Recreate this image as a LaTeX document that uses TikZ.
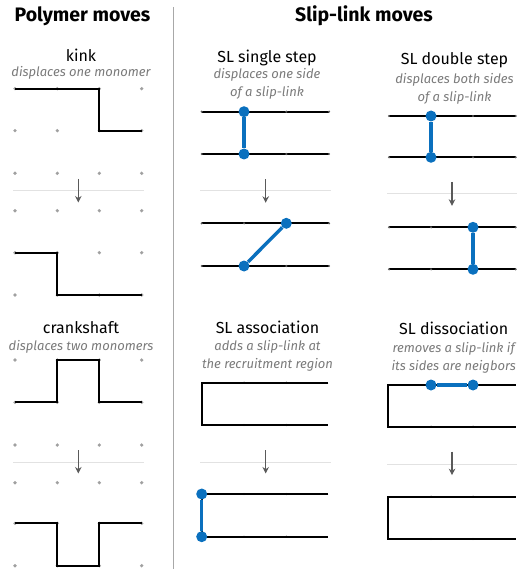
\documentclass[tikz,border=0pt]{standalone}
\usepackage{fontspec}
\setmainfont{Fira Sans}
\usetikzlibrary{arrows.meta}
\definecolor{slblue}{HTML}{0A70BE}
\definecolor{subgray}{HTML}{7A7A7A}
\definecolor{dotgray}{HTML}{A0A0A0}
\definecolor{sepgray}{HTML}{E2E2E2}
\definecolor{arrgray}{HTML}{5A5A5A}
\definecolor{divgray}{HTML}{A8A8A8}
\begin{document}
\begin{tikzpicture}[x=1pt,y=-1pt,
  head/.style={font=\bfseries\fontsize{19.5}{22}\selectfont, anchor=base, inner sep=0},
  movename/.style={font=\fontsize{16}{18}\selectfont, anchor=base, inner sep=0},
  subtxt/.style={font=\itshape\fontsize{13}{18}\selectfont, text=subgray, align=center, anchor=base, inner sep=0},
  chain/.style={line width=1.8pt, black, line join=miter},
  slline/.style={line width=1.8pt, black},
  sllink/.style={line width=3.4pt, slblue},
  slend/.style={circle, fill=slblue, inner sep=0, minimum size=11pt},
  gdot/.style={circle, fill=dotgray, inner sep=0, minimum size=3.6pt},
  kdot/.style={circle, fill=arrgray, inner sep=0, minimum size=2.4pt},
  sepline/.style={draw=sepgray, line width=1pt},
  movearrow/.style={-{Stealth[length=6.5pt,width=6.5pt]}, draw=arrgray, line width=1.2pt},
]
\useasboundingbox (0,0) rectangle (517,569);

% main divider
\draw[divgray, line width=1.3pt] (173.3,7) coordinate (dv1) -- (173.3,569) coordinate (dv2);

% headings
\node[head] (hpoly) at (82.5,22) {Polymer moves};
\node[head] (hsl) at (364,22) {Slip-link moves};

% ---------------- kink ----------------
\node[movename] (tkink) at (81,61.7) {kink};
\node[subtxt] (skink) at (81,76.7) {displaces one monomer};
\foreach \y in {88.7,130.7,173.3,210.7,252.7,295}
  \foreach \x in {15,57.3,99.3,141.7}
    \node[gdot] at (\x,\y) {};
\draw[chain] (15,88.7) -- (99.3,88.7) -- (99.3,130.7) -- (141.7,130.7);
\draw[sepline] (13,190.7) -- (144,190.7);
\coordinate (ka1) at (78.3,179);
\coordinate (ka2) at (78.3,202.5);
\draw[movearrow] (ka1) -- (ka2);
\draw[chain] (15,252.7) -- (57.3,252.7) -- (57.3,295) -- (141.7,295);

% ---------------- crankshaft ----------------
\node[movename] (tcrank) at (81,333.3) {crankshaft};
\node[subtxt] (scrank) at (81,350) {displaces two monomers};
\foreach \y in {360,402.3,445,482.7,523.3,565.7}
  \foreach \x in {15,57.3,99.3,141.7}
    \node[gdot] at (\x,\y) {};
\draw[chain] (15,402.3) -- (57.3,402.3) -- (57.3,360) -- (99.3,360) -- (99.3,402.3) -- (141.7,402.3);
\draw[sepline] (13,462.3) -- (144,462.3);
\coordinate (ca1) at (78.3,450);
\coordinate (ca2) at (78.3,473.5);
\draw[movearrow] (ca1) -- (ca2);
\draw[chain] (15,523.3) -- (57.3,523.3) -- (57.3,565.7) -- (99.3,565.7) -- (99.3,523.3) -- (141.7,523.3);

% ---------------- SL single step ----------------
\node[movename] (tss) at (267,62.7) {SL single step};
\node[subtxt] (sss) at (267,96.3) {displaces one side\\of a slip-link};
\foreach \y in {111.7,154,223.3,266}{
  \draw[slline] (201.7,\y) -- (329,\y);
  \foreach \x in {201.7,244,286.3,329}
    \node[kdot] at (\x,\y) {};
}
\node[slend] (ss1a) at (244,111.7) {};
\node[slend] (ss1b) at (244,154) {};
\draw[sllink] (ss1a) -- (ss1b);
\draw[sepline] (200,191) -- (331,191);
\coordinate (ssa1) at (265.7,179.3);
\coordinate (ssa2) at (265.7,202.8);
\draw[movearrow] (ssa1) -- (ssa2);
\node[slend] (ss2a) at (286.3,223.3) {};
\node[slend] (ss2b) at (244,266) {};
\draw[sllink] (ss2a) -- (ss2b);

% ---------------- SL double step ----------------
\node[movename] (tds) at (454.5,65) {SL double step};
\node[subtxt] (sds) at (454.5,101.3) {displaces both sides\\of a slip-link};
\foreach \y in {116,157.3,227.3,269.3}{
  \draw[slline] (389,\y) -- (515.7,\y);
  \foreach \x in {389,431,473,515.7}
    \node[kdot] at (\x,\y) {};
}
\node[slend] (ds1a) at (431,116) {};
\node[slend] (ds1b) at (431,157.3) {};
\draw[sllink] (ds1a) -- (ds1b);
\draw[sepline] (387,194) -- (517,194);
\coordinate (dsa1) at (452,182);
\coordinate (dsa2) at (452,205.8);
\draw[movearrow] (dsa1) -- (dsa2);
\node[slend] (ds2a) at (473,227.3) {};
\node[slend] (ds2b) at (473,269.3) {};
\draw[sllink] (ds2a) -- (ds2b);

% ---------------- SL association ----------------
\node[movename] (tas) at (267.5,333.3) {SL association};
\node[subtxt] (sas) at (267.5,368.5) {adds a slip-link at\\the recruitment region};
\foreach \y in {382.7,425,494,536.7}
  \foreach \x in {244,286.3}
    \node[kdot] at (\x,\y) {};
\draw[slline, line join=miter] (328.3,382.7) -- (201.7,382.7) -- (201.7,425) -- (328.3,425);
\draw[sepline] (200,462.3) -- (331,462.3);
\coordinate (asa1) at (265.7,450);
\coordinate (asa2) at (265.7,473.5);
\draw[movearrow] (asa1) -- (asa2);
\draw[slline, line join=miter] (328.3,494) -- (201.7,494) -- (201.7,536.7) -- (328.3,536.7);
\node[slend] (as2a) at (201.7,494) {};
\node[slend] (as2b) at (201.7,536.7) {};
\draw[sllink] (as2a) -- (as2b);

% ---------------- SL dissociation ----------------
\node[movename] (tdi) at (453.7,334) {SL dissociation};
\node[subtxt] (sdi) at (453.7,370) {removes a slip-link if\\its sides are neigbors};
\foreach \y in {385,426.7,496.7,539}
  \foreach \x in {431,473}
    \node[kdot] at (\x,\y) {};
\draw[slline, line join=miter] (515.7,385) -- (388.3,385) -- (388.3,426.7) -- (515.7,426.7);
\node[slend] (di1a) at (431,385) {};
\node[slend] (di1b) at (473,385) {};
\draw[sllink] (di1a) -- (di1b);
\draw[sepline] (387,464) -- (517,464);
\coordinate (dia1) at (452,451.7);
\coordinate (dia2) at (452,475.2);
\draw[movearrow] (dia1) -- (dia2);
\draw[slline, line join=miter] (515.7,496.7) -- (388.3,496.7) -- (388.3,539) -- (515.7,539);
\end{tikzpicture}
\end{document}
